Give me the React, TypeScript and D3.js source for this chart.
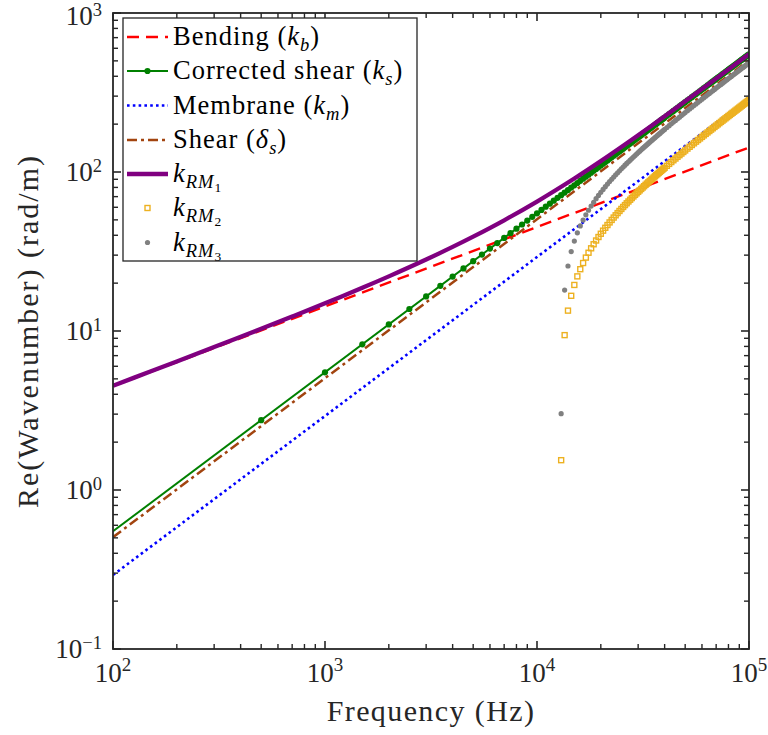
import React from "react";
import * as d3 from "d3";

// ---------- data (frequencies in kHz, wavenumbers in rad/m) ----------
const lineFreqKHz = [0.1, 100];
const bendingVals = [4.51, 142.6];
const correctedShearLineVals = [0.55, 550];
const membraneVals = [0.292, 292];
const shearDeltaVals = [0.505, 505];

const rm1FreqKHz = [0.1, 0.15, 0.2, 0.3, 0.5, 0.7, 1, 1.5, 2, 3, 4, 5, 7, 10, 15, 20, 25, 30, 40, 50, 70, 100];
const rm1Vals = [4.53, 5.56, 6.44, 7.92, 10.32, 12.33, 14.94, 18.7, 22.06, 28.15, 33.8, 39.21, 49.7, 65.15, 90.95, 117.08, 143.53, 170.22, 224.08, 278.33, 387.42, 551.72];

const csMarkerFreqKHz = [
  0.5, 1, 1.5, 2, 2.5, 3, 3.5, 4, 4.5, 5, 5.5, 6, 6.5, 7, 7.5, 8, 8.5, 9, 9.5, 10,
  10.5, 11, 11.5, 12, 12.5, 13, 13.5, 14, 14.5, 15, 15.5, 16, 16.5, 17, 17.5, 18, 18.5, 19, 19.5, 20,
  20.5, 21, 21.5, 22, 22.5, 23, 23.5, 24, 24.5, 25, 25.5, 26, 26.5, 27, 27.5, 28, 28.5, 29, 29.5, 30,
  30.5, 31, 31.5, 32, 32.5, 33, 33.5, 34, 34.5, 35, 35.5, 36, 36.5, 37, 37.5, 38, 38.5, 39, 39.5, 40,
  41, 42, 43, 44, 45, 46, 47, 48, 49, 50,
  51.25, 52.5, 53.75, 55, 56.25, 57.5, 58.75, 60, 61.25, 62.5, 63.75, 65, 66.25, 67.5, 68.75, 70, 71.25, 72.5, 73.75, 75,
  76.25, 77.5, 78.75, 80, 81.25, 82.5, 83.75, 85, 86.25, 87.5, 88.75, 90, 91.25, 92.5, 93.75, 95, 96.25, 97.5, 98.75, 100,
];
const csMarkerVals = [
  2.75, 5.5, 8.25, 11, 13.75, 16.5, 19.25, 22, 24.75, 27.5, 30.25, 33, 35.75, 38.5, 41.25, 44, 46.75, 49.5, 52.25, 55,
  57.75, 60.5, 63.25, 66, 68.75, 71.5, 74.25, 77, 79.75, 82.5, 85.25, 88, 90.75, 93.5, 96.25, 99, 101.75, 104.5, 107.25, 110,
  112.75, 115.5, 118.25, 121, 123.75, 126.5, 129.25, 132, 134.75, 137.5, 140.25, 143, 145.75, 148.5, 151.25, 154, 156.75, 159.5, 162.25, 165,
  167.75, 170.5, 173.25, 176, 178.75, 181.5, 184.25, 187, 189.75, 192.5, 195.25, 198, 200.75, 203.5, 206.25, 209, 211.75, 214.5, 217.25, 220,
  225.5, 231, 236.5, 242, 247.5, 253, 258.5, 264, 269.5, 275,
  281.88, 288.75, 295.63, 302.5, 309.38, 316.25, 323.13, 330, 336.88, 343.75, 350.63, 357.5, 364.38, 371.25, 378.13, 385, 391.88, 398.75, 405.63, 412.5,
  419.38, 426.25, 433.13, 440, 446.88, 453.75, 460.63, 467.5, 474.38, 481.25, 488.13, 495, 501.88, 508.75, 515.63, 522.5, 529.38, 536.25, 543.13, 550,
];

const rmMarkerFreqKHz = [
  13, 13.5, 14, 14.5, 15, 15.5, 16, 16.5, 17, 17.5, 18, 18.5, 19, 19.5, 20,
  20.5, 21, 21.5, 22, 22.5, 23, 23.5, 24, 24.5, 25, 25.5, 26, 26.5, 27, 27.5, 28, 28.5, 29, 29.5, 30,
  30.5, 31, 31.5, 32, 32.5, 33, 33.5, 34, 34.5, 35, 35.5, 36, 36.5, 37, 37.5, 38, 38.5, 39, 39.5, 40,
  41, 42, 43, 44, 45, 46, 47, 48, 49, 50,
  51.25, 52.5, 53.75, 55, 56.25, 57.5, 58.75, 60, 61.25, 62.5, 63.75, 65, 66.25, 67.5, 68.75, 70, 71.25, 72.5, 73.75, 75,
  76.25, 77.5, 78.75, 80, 81.25, 82.5, 83.75, 85, 86.25, 87.5, 88.75, 90, 91.25, 92.5, 93.75, 95, 96.25, 97.5, 98.75, 100,
];
const rm2Vals = [
  1.54, 9.42, 13.43, 16.65, 19.48, 22.06, 24.47, 26.76, 28.95, 31.06, 33.12, 35.12, 37.08, 39.0, 40.89,
  42.75, 44.58, 46.39, 48.18, 49.95, 51.7, 53.44, 55.16, 56.87, 58.57, 60.26, 61.93, 63.6, 65.25, 66.9, 68.54, 70.18, 71.8, 73.42, 75.03,
  76.64, 78.24, 79.84, 81.43, 83.01, 84.59, 86.17, 87.74, 89.31, 90.87, 92.43, 93.99, 95.54, 97.09, 98.64, 100.19, 101.73, 103.27, 104.81, 106.34,
  109.4, 112.45, 115.49, 118.52, 121.55, 124.57, 127.58, 130.59, 133.59, 136.58,
  140.32, 144.05, 147.77, 151.49, 155.2, 158.91, 162.61, 166.3, 169.99, 173.68, 177.36, 181.04, 184.72, 188.39, 192.05, 195.72, 199.38, 203.04, 206.69, 210.35,
  214.0, 217.65, 221.29, 224.94, 228.58, 232.22, 235.86, 239.5, 243.13, 246.77, 250.4, 254.03, 257.66, 261.29, 264.92, 268.54, 272.17, 275.79, 279.41, 283.04,
];
const rm3Vals = [
  3.02, 18.09, 25.63, 31.61, 36.78, 41.46, 45.79, 49.87, 53.75, 57.47, 61.07, 64.55, 67.95, 71.27, 74.52,
  77.72, 80.85, 83.95, 87.0, 90.02, 93.0, 95.96, 98.88, 101.78, 104.66, 107.52, 110.35, 113.17, 115.97, 118.76, 121.53, 124.29, 127.03, 129.77, 132.49,
  135.2, 137.9, 140.6, 143.28, 145.96, 148.62, 151.29, 153.94, 156.59, 159.23, 161.87, 164.49, 167.12, 169.73, 172.35, 174.95, 177.56, 180.16, 182.76, 185.35,
  190.52, 195.68, 200.82, 205.95, 211.08, 216.19, 221.29, 226.38, 231.47, 236.54,
  242.88, 249.21, 255.52, 261.83, 268.12, 274.41, 280.7, 286.97, 293.24, 299.5, 305.76, 312.01, 318.26, 324.5, 330.74, 336.98, 343.21, 349.43, 355.65, 361.88,
  368.09, 374.3, 380.51, 386.72, 392.93, 399.13, 405.33, 411.53, 417.72, 423.91, 430.11, 436.29, 442.48, 448.67, 454.85, 461.03, 467.22, 473.4, 479.57, 485.75,
];

const xTickExps = [2, 3, 4, 5];
const yTickExps = [-1, 0, 1, 2, 3];

const legendLabels = ["Bending", "Corrected shear", "Membrane", "Shear"];

// ---------- styling ----------
const W = 768;
const H = 735;
const PL = 113, PR = 749, PT = 13, PB = 649;
const AX = "#262626";
const FONT = "Liberation Serif, DejaVu Serif, Tinos, serif";
const C_RED = "#FF0000";
const C_GREEN = "#008000";
const C_BLUE = "#0000FF";
const C_BROWN = "#A2440F";
const C_PURPLE = "#800080";
const C_YELLOW = "#EDB120";
const C_GRAY = "#808080";

const zip = (f: number[], v: number[]) => f.map((d, i) => [d, v[i]] as [number, number]);

export default function App() {
  const x = d3.scaleLog().domain([100, 1e5]).range([PL, PR]);
  const y = d3.scaleLog().domain([0.1, 1000]).range([PB, PT]);
  const line = d3
    .line<[number, number]>()
    .x((d) => x(d[0] * 1000))
    .y((d) => y(d[1]));
  const curve = d3
    .line<[number, number]>()
    .x((d) => x(d[0] * 1000))
    .y((d) => y(d[1]))
    .curve(d3.curveCatmullRom.alpha(0.5));

  const xMinor: number[] = [];
  for (let e = 2; e < 5; e++) for (let m = 2; m <= 9; m++) xMinor.push(m * 10 ** e);
  const yMinor: number[] = [];
  for (let e = -1; e < 3; e++) for (let m = 2; m <= 9; m++) yMinor.push(m * 10 ** e);

  const MAJ = 8, MIN = 5;

  const legX0 = 127, legX1 = 168, legXm = 147.5, legTextX = 173;
  const legRows = [37, 71, 105.5, 140, 174, 208, 242.5];
  const lfs = 26.5;
  const sfs = 18.5;
  const sq = 5;

  return (
    <svg
      width={W}
      height={H}
      viewBox={`0 0 ${W} ${H}`}
      style={{ position: "absolute", left: 0, top: 0, background: "#fff", fontFamily: FONT }}
    >
      <defs>
        <clipPath id="plotClip">
          <rect x={PL} y={PT} width={PR - PL} height={PB - PT} />
        </clipPath>
      </defs>
      <rect x={0} y={0} width={W} height={H} fill="#fff" />

      <g clipPath="url(#plotClip)">
        <path d={line(zip(lineFreqKHz, bendingVals)) || ""} fill="none" stroke={C_RED} strokeWidth={2.4} strokeDasharray="12 7" />
        <path d={line(zip(lineFreqKHz, correctedShearLineVals)) || ""} fill="none" stroke={C_GREEN} strokeWidth={2} />
        {zip(csMarkerFreqKHz, csMarkerVals).map((d, i) => (
          <circle key={"cs" + i} cx={x(d[0] * 1000)} cy={y(d[1])} r={3.1} fill={C_GREEN} />
        ))}
        <path d={line(zip(lineFreqKHz, membraneVals)) || ""} fill="none" stroke={C_BLUE} strokeWidth={2.6} strokeDasharray="2.6 3.2" />
        <path d={line(zip(lineFreqKHz, shearDeltaVals)) || ""} fill="none" stroke={C_BROWN} strokeWidth={2.5} strokeDasharray="10 4 3 4" />
        <path d={curve(zip(rm1FreqKHz, rm1Vals)) || ""} fill="none" stroke={C_PURPLE} strokeWidth={4.3} />
        {zip(rmMarkerFreqKHz, rm2Vals).map((d, i) => (
          <rect key={"r2" + i} x={x(d[0] * 1000) - sq / 2} y={y(d[1]) - sq / 2} width={sq} height={sq} fill="none" stroke={C_YELLOW} strokeWidth={1.4} />
        ))}
        {zip(rmMarkerFreqKHz, rm3Vals).map((d, i) => (
          <circle key={"r3" + i} cx={x(d[0] * 1000)} cy={y(d[1])} r={2.6} fill={C_GRAY} />
        ))}
      </g>

      <rect x={PL} y={PT} width={PR - PL} height={PB - PT} fill="none" stroke={AX} strokeWidth={1.8} />
      {xTickExps.map((e) => {
        const px = x(10 ** e);
        return (
          <g key={"xt" + e}>
            <line x1={px} x2={px} y1={PB} y2={PB - MAJ} stroke={AX} strokeWidth={1.6} />
            <line x1={px} x2={px} y1={PT} y2={PT + MAJ} stroke={AX} strokeWidth={1.6} />
            <text x={px} y={682} textAnchor="middle" fontSize={27} fill={AX}>
              10<tspan dy={-11} fontSize={19}>{e}</tspan>
            </text>
          </g>
        );
      })}
      {xMinor.map((v, i) => {
        const px = x(v);
        return (
          <g key={"xm" + i}>
            <line x1={px} x2={px} y1={PB} y2={PB - MIN} stroke={AX} strokeWidth={1.4} />
            <line x1={px} x2={px} y1={PT} y2={PT + MIN} stroke={AX} strokeWidth={1.4} />
          </g>
        );
      })}
      {yTickExps.map((e) => {
        const py = y(10 ** e);
        return (
          <g key={"yt" + e}>
            <line x1={PL} x2={PL + MAJ} y1={py} y2={py} stroke={AX} strokeWidth={1.6} />
            <line x1={PR} x2={PR - MAJ} y1={py} y2={py} stroke={AX} strokeWidth={1.6} />
            <text x={102} y={Math.max(py + 9, 25)} textAnchor="end" fontSize={27} fill={AX}>
              10<tspan dy={-9.5} fontSize={18.5}>{e < 0 ? "\u2212" + Math.abs(e) : String(e)}</tspan>
            </text>
          </g>
        );
      })}
      {yMinor.map((v, i) => {
        const py = y(v);
        return (
          <g key={"ym" + i}>
            <line x1={PL} x2={PL + MIN} y1={py} y2={py} stroke={AX} strokeWidth={1.4} />
            <line x1={PR} x2={PR - MIN} y1={py} y2={py} stroke={AX} strokeWidth={1.4} />
          </g>
        );
      })}

      <text x={431} y={721} textAnchor="middle" fontSize={30} letterSpacing={1.4} fill={AX}>
        Frequency (Hz)
      </text>
      <text
        transform={`translate(38, ${(PT + PB) / 2}) rotate(-90)`}
        textAnchor="middle"
        fontSize={30}
        letterSpacing={2}
        fill={AX}
      >
        Re(Wavenumber) (rad/m)
      </text>

      <g>
        <rect x={123} y={18} width={294} height={243} fill="#fff" stroke={AX} strokeWidth={1.3} />
        <line x1={legX0} x2={legX1} y1={legRows[0]} y2={legRows[0]} stroke={C_RED} strokeWidth={2.4} strokeDasharray="12 7" />
        <line x1={legX0} x2={legX1} y1={legRows[1]} y2={legRows[1]} stroke={C_GREEN} strokeWidth={2} />
        <circle cx={legXm} cy={legRows[1]} r={3.1} fill={C_GREEN} />
        <line x1={legX0} x2={legX1} y1={legRows[2]} y2={legRows[2]} stroke={C_BLUE} strokeWidth={2.6} strokeDasharray="2.6 3.2" />
        <line x1={legX0} x2={legX1} y1={legRows[3]} y2={legRows[3]} stroke={C_BROWN} strokeWidth={2.5} strokeDasharray="10 4 3 4" />
        <line x1={legX0} x2={legX1} y1={legRows[4]} y2={legRows[4]} stroke={C_PURPLE} strokeWidth={4.3} />
        <rect x={legXm - sq / 2} y={legRows[5] - sq / 2} width={sq} height={sq} fill="none" stroke={C_YELLOW} strokeWidth={1.4} />
        <circle cx={legXm} cy={legRows[6]} r={2.6} fill={C_GRAY} />

        <g fontSize={lfs} fill="#000" letterSpacing={1}>
          <text x={legTextX} y={legRows[0] + 8}>
            {legendLabels[0]} (<tspan fontStyle="italic">k</tspan>
            <tspan fontStyle="italic" fontSize={sfs} dy={6}>b</tspan>
            <tspan dy={-6}>)</tspan>
          </text>
          <text x={legTextX} y={legRows[1] + 8}>
            {legendLabels[1]} (<tspan fontStyle="italic">k</tspan>
            <tspan fontStyle="italic" fontSize={sfs} dy={6}>s</tspan>
            <tspan dy={-6}>)</tspan>
          </text>
          <text x={legTextX} y={legRows[2] + 8}>
            {legendLabels[2]} (<tspan fontStyle="italic">k</tspan>
            <tspan fontStyle="italic" fontSize={sfs} dy={6}>m</tspan>
            <tspan dy={-6}>)</tspan>
          </text>
          <text x={legTextX} y={legRows[3] + 8}>
            {legendLabels[3]} (<tspan fontStyle="italic">δ</tspan>
            <tspan fontStyle="italic" fontSize={sfs} dy={6}>s</tspan>
            <tspan dy={-6}>)</tspan>
          </text>
          {[4, 5, 6].map((r, j) => (
            <text key={"lk" + r} x={legTextX} y={legRows[r] + 8}>
              <tspan fontStyle="italic">k</tspan>
              <tspan fontStyle="italic" fontSize={sfs} dy={6}>RM</tspan>
              <tspan fontSize={13.5} dy={4}>{String(j + 1)}</tspan>
            </text>
          ))}
        </g>
      </g>
    </svg>
  );
}
